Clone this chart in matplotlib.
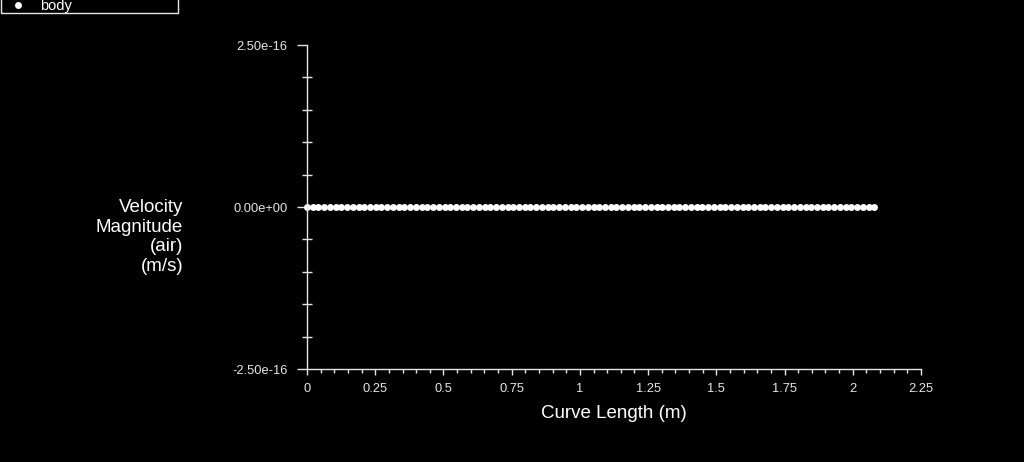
import matplotlib
matplotlib.use('Agg')
import matplotlib.pyplot as plt
from matplotlib.lines import Line2D
from matplotlib.patches import Rectangle
from matplotlib.ticker import MultipleLocator, FuncFormatter

plt.rcParams['font.family'] = ['Liberation Sans', 'DejaVu Sans']

# curve length positions (m) and velocity magnitude (m/s) along line "body"
curve_length = [
    0.000, 0.021, 0.042, 0.063, 0.084, 0.105, 0.126, 0.147, 0.168, 0.189,
    0.210, 0.231, 0.252, 0.273, 0.294, 0.315, 0.336, 0.357, 0.378, 0.399,
    0.420, 0.441, 0.462, 0.483, 0.504, 0.525, 0.546, 0.567, 0.588, 0.609,
    0.630, 0.651, 0.672, 0.693, 0.714, 0.735, 0.756, 0.777, 0.798, 0.819,
    0.840, 0.861, 0.882, 0.903, 0.924, 0.945, 0.966, 0.987, 1.008, 1.029,
    1.050, 1.071, 1.092, 1.113, 1.134, 1.155, 1.176, 1.197, 1.218, 1.239,
    1.260, 1.281, 1.302, 1.323, 1.344, 1.365, 1.386, 1.407, 1.428, 1.449,
    1.470, 1.491, 1.512, 1.533, 1.554, 1.575, 1.596, 1.617, 1.638, 1.659,
    1.680, 1.701, 1.722, 1.743, 1.764, 1.785, 1.806, 1.827, 1.848, 1.869,
    1.890, 1.911, 1.932, 1.953, 1.974, 1.995, 2.016, 2.037, 2.058, 2.079,
]
velocity = [0.0] * len(curve_length)
series_name = 'body'

W, H = 1024, 462
fg = '#e6e6e6'
fig = plt.figure(figsize=(W / 100, H / 100), dpi=100, facecolor='black')
ax = fig.add_axes([307/W, 1 - 369/H, 614/W, 324/H])
ax.set_facecolor('black')

ax.plot(curve_length, velocity, 'o', color='white', markersize=5,
        markeredgewidth=0, label=series_name, clip_on=False)

ax.set_xlim(0, 2.25)
ax.set_ylim(-2.5e-16, 2.5e-16)
ax.xaxis.set_major_locator(MultipleLocator(0.25))
ax.xaxis.set_minor_locator(MultipleLocator(0.05))
ax.yaxis.set_major_locator(MultipleLocator(2.5e-16))
ax.yaxis.set_minor_locator(MultipleLocator(0.5e-16))
ax.xaxis.set_major_formatter(FuncFormatter(lambda v, p: ('%g' % v)))
ax.yaxis.set_major_formatter(FuncFormatter(lambda v, p: '%.2e' % v))

for s in ['top', 'right']:
    ax.spines[s].set_visible(False)
for s in ['left', 'bottom']:
    ax.spines[s].set_color(fg)
    ax.spines[s].set_linewidth(1)

ax.tick_params(which='both', colors=fg, labelsize=9.3, direction='out')
ax.tick_params(axis='y', which='major', length=7, width=1, pad=7)
ax.tick_params(axis='x', which='major', length=4, width=1, pad=6)
ax.tick_params(which='minor', length=3, width=1)
ax.tick_params(axis='y', which='minor', direction='inout', length=7)

ax.set_xlabel('Curve Length (m)', color='white', fontsize=13.5, labelpad=7)
fig.text(183/W, 1 - 237/H, 'Velocity\nMagnitude\n(air)\n(m/s)', color='white',
         fontsize=13.5, ha='right', va='center', linespacing=1.2)

# legend box in the top-left corner, partly outside the figure like the original
fig.add_artist(Rectangle((0.5/W, 1 - 12.5/H), 177.5/W, 30/H, transform=fig.transFigure,
                         facecolor='none', edgecolor=fg, linewidth=1))
fig.add_artist(Line2D([18/W], [1 - 5/H], transform=fig.transFigure, marker='o',
                      color='white', markersize=5, markeredgewidth=0, linestyle='none'))
fig.text(40/W, 1 - 6/H, series_name, color='white', fontsize=10.5,
         ha='left', va='center')

fig.savefig('out.png', dpi=100, facecolor='black')
